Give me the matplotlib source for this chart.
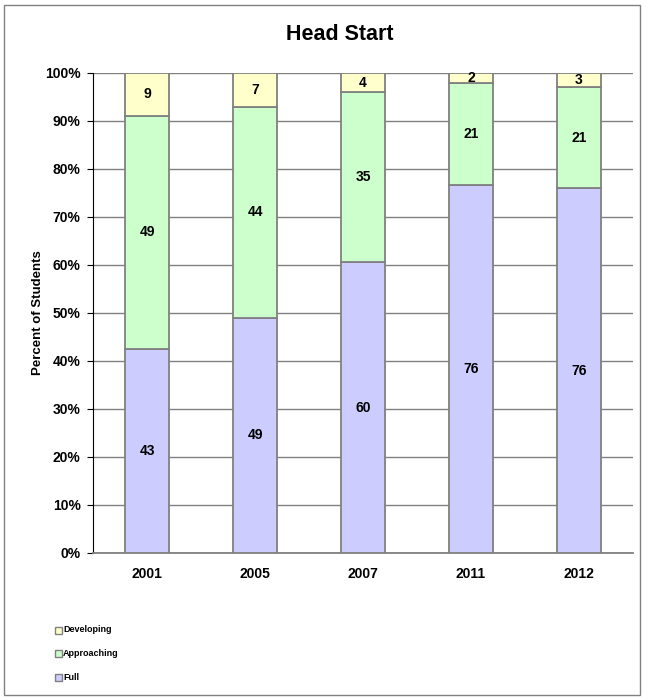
import matplotlib
matplotlib.use("Agg")
import matplotlib.pyplot as plt
from matplotlib.patches import Rectangle
import numpy as np

years = ["2001", "2005", "2007", "2011", "2012"]
full = [43, 49, 60, 76, 76]
approaching = [49, 44, 35, 21, 21]
developing = [9, 7, 4, 2, 3]

plt.rcParams['font.family'] = ['Liberation Sans', 'DejaVu Sans']

W, H = 647, 700
fig = plt.figure(figsize=(W/100, H/100), dpi=100)
fig.patches.append(Rectangle((4/W, 1-695/H), 636/W, 690/H, transform=fig.transFigure,
                             fill=False, edgecolor='#808080', linewidth=1))

ax = fig.add_axes([93/W, 1-553/H, 540/W, 480/H])
x = np.arange(len(years))
tot = np.array(full) + np.array(approaching) + np.array(developing)
f = np.array(full) / tot * 100
a = np.array(approaching) / tot * 100
d = np.array(developing) / tot * 100

ec = '#808080'
bw = 0.4
ax.bar(x, f, bw, color='#CCCCFF', edgecolor=ec, linewidth=1.3, zorder=3)
ax.bar(x, a, bw, bottom=f, color='#CCFFCC', edgecolor=ec, linewidth=1.3, zorder=3)
ax.bar(x, d, bw, bottom=f + a, color='#FFFFCC', edgecolor=ec, linewidth=1.3, zorder=3)

for i in range(len(years)):
    ax.text(x[i], f[i]/2, str(full[i]), ha='center', va='center', fontsize=10, fontweight='bold', zorder=4)
    ax.text(x[i], f[i] + a[i]/2, str(approaching[i]), ha='center', va='center', fontsize=10, fontweight='bold', zorder=4)
    ax.text(x[i], f[i] + a[i] + d[i]/2, str(developing[i]), ha='center', va='center', fontsize=10, fontweight='bold', zorder=4)

ax.set_xlim(-0.5, len(years) - 0.5)
ax.set_ylim(0, 100)
ax.set_yticks(np.arange(0, 101, 10))
ax.set_yticklabels([f"{v}%" for v in range(0, 101, 10)], fontsize=10, fontweight='bold')
ax.set_xticks(x)
ax.set_xticklabels(years, fontsize=10, fontweight='bold')
ax.tick_params(axis='x', length=0, pad=10)
ax.tick_params(axis='y', length=4, direction='out', pad=5)
ax.yaxis.grid(True, color='#808080', linewidth=1, zorder=0)
for s in ['top', 'right']:
    ax.spines[s].set_visible(False)
ax.spines['left'].set_color('black')
ax.spines['bottom'].set_color('#808080')
ax.spines['bottom'].set_linewidth(1.3)

fig.text(38/W, 1-313/H, "Percent of Students", rotation=90, ha='center', va='center',
         fontsize=9.5, fontweight='bold')

fig.text(340/W, 1-35/H, "Head Start", ha='center', va='center', fontsize=15.5, fontweight='bold')

leg = [("Developing", '#FFFFCC'), ("Approaching", '#CCFFCC'), ("Full", '#CCCCFF')]
for j, (lab, col) in enumerate(leg):
    yc = 630 + j*23.5
    fig.patches.append(Rectangle((55/W, 1-(yc+3.5)/H), 7/W, 7/H, transform=fig.transFigure,
                                 facecolor=col, edgecolor='#808080', linewidth=1))
    fig.text(63/W, 1-yc/H, lab, ha='left', va='center', fontsize=6.5, fontweight='bold')

fig.savefig("out.png", dpi=100)
